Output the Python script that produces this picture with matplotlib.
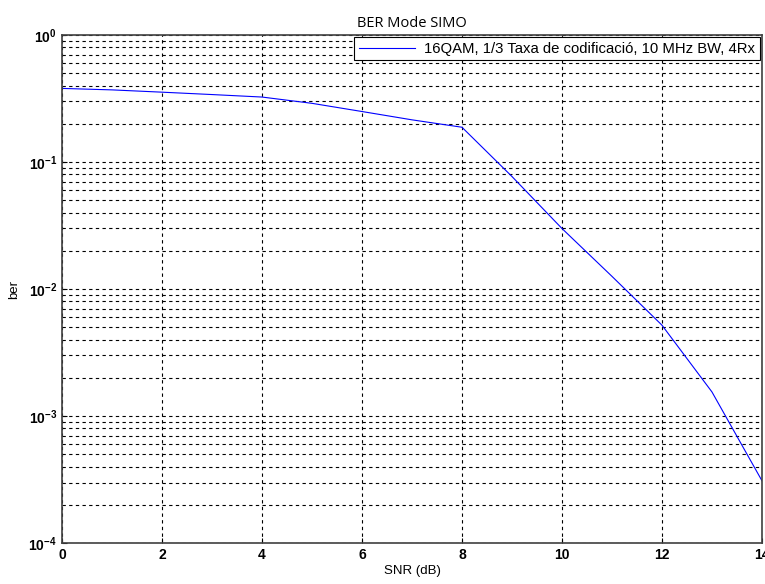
import matplotlib
matplotlib.use("Agg")
import matplotlib.pyplot as plt
from matplotlib.ticker import LogLocator, NullFormatter

plt.rcParams["font.family"] = ["Liberation Sans", "DejaVu Sans"]

snr = [0, 1, 2, 3, 4, 5, 6, 7, 8, 9, 10, 11, 12, 13, 14]
ber = [0.38, 0.37, 0.355, 0.34, 0.325, 0.29, 0.25, 0.215, 0.188,
       0.077, 0.030, 0.0126, 0.0052, 0.00155, 0.00031]
label = "16QAM, 1/3 Taxa de codificació, 10 MHz BW, 4Rx"

fig = plt.figure(figsize=(7.65, 5.84), dpi=100)
ax = fig.add_axes([0.081, 0.070, 0.915, 0.870])

ax.semilogy(snr, ber, color="blue", linewidth=0.8, label=label)

ax.set_xlim(0, 14)
ax.set_ylim(1e-4, 1)
ax.set_xticks(range(0, 15, 2))
ax.yaxis.set_major_locator(LogLocator(base=10, numticks=10))
ax.yaxis.set_minor_locator(LogLocator(base=10, subs=range(2, 10), numticks=20))
ax.yaxis.set_minor_formatter(NullFormatter())

ax.grid(True, which="major", linestyle=(0, (3, 3)), color="black", linewidth=0.8)
ax.grid(True, which="minor", axis="y", linestyle=(0, (3, 3)), color="black", linewidth=0.8)

ax.tick_params(which="both", direction="in", labelsize=10)
ax.tick_params(which="minor", length=0)
for lbl in ax.get_xticklabels() + ax.get_yticklabels():
    lbl.set_fontweight("bold")
for s in ax.spines.values():
    s.set_color("#404040")
    s.set_linewidth(1.2)

ax.set_title("BER Mode SIMO", fontsize=10.5, family=["Open Sans", "DejaVu Sans"], pad=6)
ax.set_xlabel("SNR (dB)", fontsize=9.5, labelpad=2)
ax.set_ylabel("ber", fontsize=9.5, labelpad=6)

leg = ax.legend(loc="upper right", fontsize=10.7, fancybox=False, framealpha=1,
                edgecolor="black", borderaxespad=0.15, handlelength=3.8,
                handletextpad=0.6, borderpad=0.3)
leg.get_frame().set_linewidth(0.8)

fig.savefig("out.png", dpi=100)
